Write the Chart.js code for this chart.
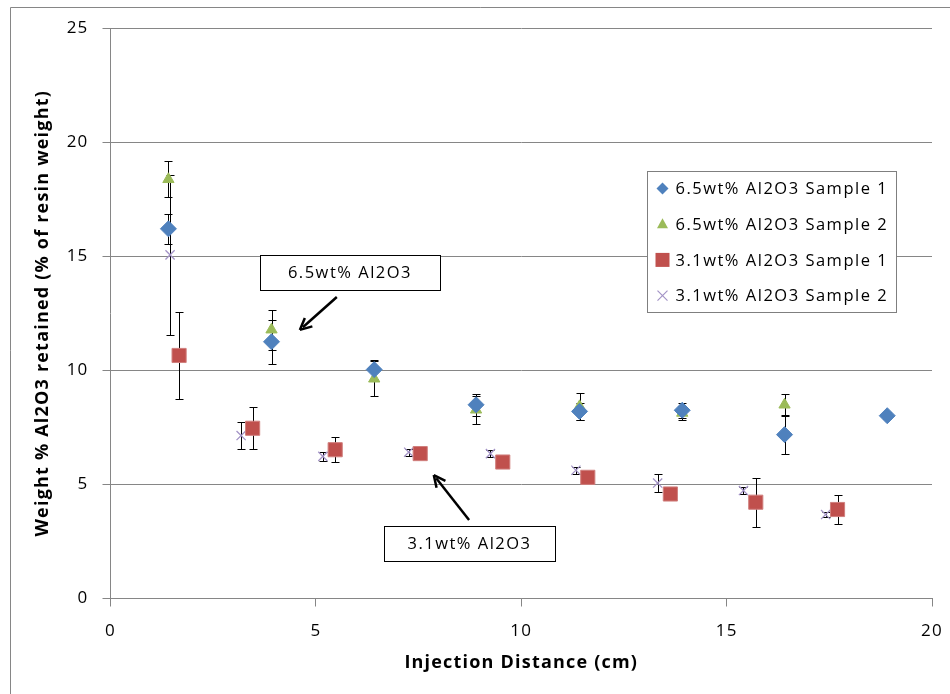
<!DOCTYPE html>
<html>
<head>
<meta charset="utf-8">
<script src="https://cdn.jsdelivr.net/npm/chart.js@4/dist/chart.umd.min.js"></script>
<style>
  html, body { margin: 0; padding: 0; background: #fff; }
  #wrap { width: 950px; height: 694px; }
</style>
</head>
<body>
<div id="wrap"><canvas id="grafico" width="950" height="694"></canvas></div>
<script>
// ---- dados ----
const rotulos = ["6.5wt% Al2O3 Sample 1", "6.5wt% Al2O3 Sample 2", "3.1wt% Al2O3 Sample 1", "3.1wt% Al2O3 Sample 2"];

const a1x = [1.41, 3.92, 6.42, 8.90, 11.42, 13.92, 16.41, 18.91];
const a1y = [16.2, 11.25, 10.03, 8.49, 8.2, 8.25, 7.18, 8.01];
const a1err = [0.67, 0.97, 0.43, 0.48, 0.36, 0.32, 0.85, 0.15];

const a2x = [1.41, 3.92, 6.42, 8.90, 11.42, 13.92, 16.41];
const a2y = [18.37, 11.78, 9.63, 8.27, 8.42, 8.13, 8.49];
const a2err = [0.78, 0.87, 0.77, 0.62, 0.6, 0.32, 0.49];

const b1x = [1.67, 3.46, 5.47, 7.54, 9.55, 11.62, 13.63, 15.71, 17.70];
const b1y = [10.65, 7.46, 6.52, 6.35, 5.98, 5.31, 4.58, 4.22, 3.9];
const b1err = [1.9, 0.92, 0.55, 0.2, 0.2, 0.2, 0.2, 1.07, 0.63];

const b2x = [1.45, 3.18, 5.17, 7.26, 9.25, 11.33, 13.32, 15.41, 17.41];
const b2y = [15.06, 7.14, 6.23, 6.41, 6.35, 5.62, 5.06, 4.73, 3.68];
const b2err = [3.5, 0.6, 0.2, 0.15, 0.15, 0.15, 0.4, 0.15, 0.1];

const ticksX = [0, 5, 10, 15, 20];
const ticksY = [0, 5, 10, 15, 20, 25];

// caixas de texto (em coordenadas dos eixos)
const notas = [
  { texto: "6.5wt% Al2O3", cx: 5.83, cy: 14.29, w: 180, h: 35, de: [5.51, 13.21], para: [4.61, 11.77] },
  { texto: "3.1wt% Al2O3", cx: 8.74, cy: 2.41, w: 171, h: 35, de: [8.73, 3.44], para: [7.87, 5.41] }
];

const FONTE = "'Open Sans', 'Noto Sans', sans-serif";
const CINZA = "#868686";

function pontos(xs, ys) {
  return xs.map((x, i) => ({ x: x, y: ys[i] }));
}

const erros = [a1err, a2err, b1err, b2err];

// ----------------------------------------------------
//  espacamento das letras (imita a fonte do Excel)
// ----------------------------------------------------
const espacamento = {
  id: "espacamento",
  beforeDraw(chart) {
    chart.ctx.letterSpacing = "1.2px";
  }
};

// ----------------------------------------------------
//  barras de erro
// ----------------------------------------------------
const barrasErro = {
  id: "barrasErro",
  beforeDatasetsDraw(chart) {
    const ctx = chart.ctx;
    const sx = chart.scales.x, sy = chart.scales.y;
    ctx.save();
    ctx.strokeStyle = "#000";
    ctx.lineWidth = 1;
    chart.data.datasets.forEach((ds, k) => {
      ds.data.forEach((p, i) => {
        const e = erros[k][i];
        const px = Math.round(sx.getPixelForValue(p.x)) + 0.5;
        const yt = Math.round(sy.getPixelForValue(p.y + e)) + 0.5;
        const yb = Math.round(sy.getPixelForValue(p.y - e)) + 0.5;
        ctx.beginPath();
        ctx.moveTo(px, yt); ctx.lineTo(px, yb);
        ctx.moveTo(px - 4, yt); ctx.lineTo(px + 4, yt);
        ctx.moveTo(px - 4, yb); ctx.lineTo(px + 4, yb);
        ctx.stroke();
      });
    });
    ctx.restore();
  }
};

// ----------------------------------------------------
//  marcador da legenda
// ----------------------------------------------------
function marcador(ctx, tipo, x, y, cor) {
  ctx.save();
  ctx.fillStyle = cor;
  ctx.strokeStyle = cor;
  ctx.beginPath();
  if (tipo === "rectRot") {
    ctx.moveTo(x, y - 6); ctx.lineTo(x + 6, y); ctx.lineTo(x, y + 6); ctx.lineTo(x - 6, y);
    ctx.closePath(); ctx.fill();
  } else if (tipo === "triangle") {
    ctx.moveTo(x, y - 6); ctx.lineTo(x + 5.5, y + 4); ctx.lineTo(x - 5.5, y + 4);
    ctx.closePath(); ctx.fill();
  } else if (tipo === "rect") {
    ctx.rect(x - 7, y - 7, 14, 14); ctx.fill();
  } else {
    ctx.lineWidth = 1.2;
    ctx.moveTo(x - 5, y - 5); ctx.lineTo(x + 5, y + 5);
    ctx.moveTo(x + 5, y - 5); ctx.lineTo(x - 5, y + 5);
    ctx.stroke();
  }
  ctx.restore();
}

// ----------------------------------------------------
//  legenda, notas e moldura
// ----------------------------------------------------
const extras = {
  id: "extras",
  afterDraw(chart) {
    const ctx = chart.ctx;
    const sx = chart.scales.x, sy = chart.scales.y;
    ctx.save();

    // moldura externa
    ctx.strokeStyle = CINZA;
    ctx.lineWidth = 1;
    ctx.beginPath();
    ctx.moveTo(10.5, 694); ctx.lineTo(10.5, 7.5); ctx.lineTo(950, 7.5);
    ctx.stroke();

    // legenda
    const lx = 647.5, ly = 171.5, lw = 249, lh = 141;
    ctx.fillStyle = "#fff";
    ctx.fillRect(lx, ly, lw, lh);
    ctx.strokeStyle = "#7f7f7f";
    ctx.strokeRect(lx, ly, lw, lh);
    ctx.font = "16.5px " + FONTE;
    ctx.letterSpacing = "1.5px";
    ctx.textBaseline = "middle";
    ctx.textAlign = "left";
    chart.data.datasets.forEach((ds, i) => {
      const yy = ly + 17 + i * 35.7;
      marcador(ctx, ds.pointStyle, lx + 15, yy, ds.legendColor || ds.backgroundColor);
      ctx.fillStyle = "#000";
      ctx.fillText(ds.label, lx + 28, yy + 1);
    });

    // caixas de texto com setas
    notas.forEach(n => {
      const cx = sx.getPixelForValue(n.cx), cy = sy.getPixelForValue(n.cy);
      const x0 = Math.round(cx - n.w / 2) + 0.5, y0 = Math.round(cy - n.h / 2) + 0.5;
      ctx.fillStyle = "#fff";
      ctx.fillRect(x0, y0, n.w, n.h);
      ctx.strokeStyle = "#000";
      ctx.lineWidth = 1;
      ctx.strokeRect(x0, y0, n.w, n.h);
      ctx.fillStyle = "#000";
      ctx.textAlign = "center";
      ctx.fillText(n.texto, cx, cy + 1);

      const ax = sx.getPixelForValue(n.de[0]), ay = sy.getPixelForValue(n.de[1]);
      const bx = sx.getPixelForValue(n.para[0]), by = sy.getPixelForValue(n.para[1]);
      const ang = Math.atan2(by - ay, bx - ax);
      ctx.lineWidth = 2.5;
      ctx.beginPath();
      ctx.moveTo(ax, ay);
      ctx.lineTo(bx - Math.cos(ang) * 4, by - Math.sin(ang) * 4);
      ctx.stroke();
      // ponta da seta
      ctx.beginPath();
      ctx.moveTo(bx, by);
      ctx.lineTo(bx - Math.cos(ang - 0.45) * 13, by - Math.sin(ang - 0.45) * 13);
      ctx.moveTo(bx, by);
      ctx.lineTo(bx - Math.cos(ang + 0.45) * 13, by - Math.sin(ang + 0.45) * 13);
      ctx.stroke();
    });
    ctx.restore();
  }
};

new Chart(document.getElementById("grafico"), {
  type: "scatter",
  data: {
    datasets: [
      { label: rotulos[0], data: pontos(a1x, a1y), pointStyle: "rectRot", pointRadius: 8, pointHoverRadius: 8,
        backgroundColor: "#4F81BD", borderColor: "#4F81BD", borderWidth: 1 },
      { label: rotulos[1], data: pontos(a2x, a2y), pointStyle: "triangle", pointRadius: 6.5, pointHoverRadius: 6.5,
        backgroundColor: "#9BBB59", borderColor: "#9BBB59", borderWidth: 1 },
      { label: rotulos[2], data: pontos(b1x, b1y), pointStyle: "rect", pointRadius: 10, pointHoverRadius: 10,
        backgroundColor: "#C0504D", borderColor: "#D07F7D", borderWidth: 1 },
      { label: rotulos[3], data: pontos(b2x, b2y), pointStyle: "crossRot", pointRadius: 6.5, pointHoverRadius: 6.5,
        backgroundColor: "#A393C6", borderColor: "#A393C6", borderWidth: 1.3, legendColor: "#A393C6" }
    ]
  },
  options: {
    responsive: false,
    animation: false,
    layout: { padding: { left: 0, right: 18, top: 28, bottom: 0 } },
    plugins: {
      legend: { display: false },
      tooltip: { enabled: false }
    },
    scales: {
      x: {
        type: "linear", min: 0, max: 20,
        afterBuildTicks: (s) => { s.ticks = ticksX.map(v => ({ value: v })); },
        afterFit: (s) => { s.height = 95.5; s.paddingLeft = 0; s.paddingRight = 0; },
        grid: { drawOnChartArea: false, drawTicks: true, tickLength: 8, color: CINZA },
        border: { color: CINZA },
        ticks: { color: "#000", padding: 14, font: { family: FONTE, size: 17 } },
        title: { display: true, text: "Injection Distance (cm)", color: "#000",
                 font: { family: FONTE, size: 18, weight: "bold" }, padding: { top: 0, bottom: 20 } }
      },
      y: {
        type: "linear", min: 0, max: 25,
        afterBuildTicks: (s) => { s.ticks = ticksY.map(v => ({ value: v })); },
        afterFit: (s) => { s.width = 110.5; },
        grid: { color: CINZA, tickLength: 8 },
        border: { color: CINZA },
        ticks: { color: "#000", padding: 14, font: { family: FONTE, size: 17 } },
        title: { display: true, text: "Weight % Al2O3 retained (% of resin weight)", color: "#000",
                 font: { family: FONTE, size: 18, weight: "bold" }, padding: { top: 32, bottom: 0 } }
      }
    }
  },
  plugins: [espacamento, barrasErro, extras]
});
</script>
</body>
</html>
